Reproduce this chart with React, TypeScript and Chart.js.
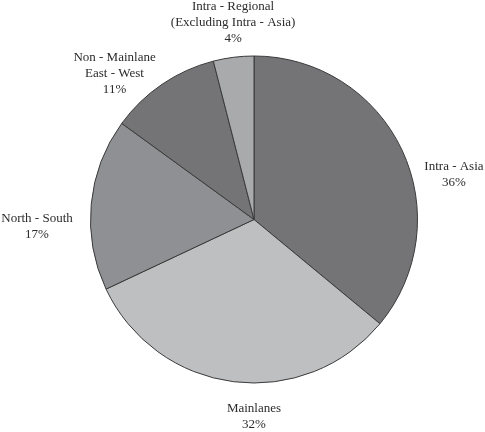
import React, { useEffect, useRef } from "react";
import { Chart, registerables } from "chart.js";

Chart.register(...registerables);

const categories: string[][] = [
  ["Intra - Asia"],
  ["Mainlanes"],
  ["North - South"],
  ["Non - Mainlane", "East - West"],
  ["Intra - Regional", "(Excluding Intra - Asia)"],
];
const shares: number[] = [36, 32, 17, 11, 4];
const sliceColors: string[] = ["#747476", "#bebfc1", "#8f9093", "#747476", "#a9aaac"];

// label placement relative to pie centre, in units of the pie radius
const labelDX: number[] = [1.223, 0, -1.327, -0.853, -0.128];
const labelDY: number[] = [-0.272, 1.205, 0.043, -0.893, -1.202];

const labelPlugin = {
  id: "sliceLabels",
  afterDatasetsDraw(chart: any) {
    const meta = chart.getDatasetMeta(0);
    const ctx = chart.ctx;
    ctx.save();
    ctx.font = "13px 'Liberation Serif', 'Times New Roman', serif";
    ctx.fillStyle = "#2b2b2b";
    ctx.textAlign = "center";
    ctx.textBaseline = "middle";
    const lineH = 16;
    meta.data.forEach((arc: any, i: number) => {
      const r = arc.outerRadius;
      const cx = arc.x + labelDX[i] * r;
      const cy = arc.y + labelDY[i] * r;
      const lines = [...categories[i], `${shares[i]}%`];
      const top = cy - ((lines.length - 1) * lineH) / 2;
      lines.forEach((ln, k) => ctx.fillText(ln, cx, top + k * lineH));
    });
    ctx.restore();
  },
};

export default function App() {
  const ref = useRef<HTMLCanvasElement | null>(null);
  useEffect(() => {
    document.body.style.margin = "0";
    if (!ref.current) return;
    const chart = new Chart(ref.current, {
      type: "pie",
      data: {
        labels: categories.map((c) => c.join(" ")),
        datasets: [
          {
            data: shares,
            backgroundColor: sliceColors,
            borderColor: "#3a3a3a",
            borderWidth: 1,
          },
        ],
      },
      options: {
        animation: false,
        responsive: false,
        layout: { padding: { left: 90, right: 67, top: 55.5, bottom: 48.5 } },
        plugins: {
          legend: { display: false },
          tooltip: { enabled: false },
        },
      },
      plugins: [labelPlugin],
    });
    return () => chart.destroy();
  }, []);
  return (
    <div style={{ width: 485, height: 432, background: "#fff" }}>
      <canvas ref={ref} width={485} height={432} />
    </div>
  );
}
